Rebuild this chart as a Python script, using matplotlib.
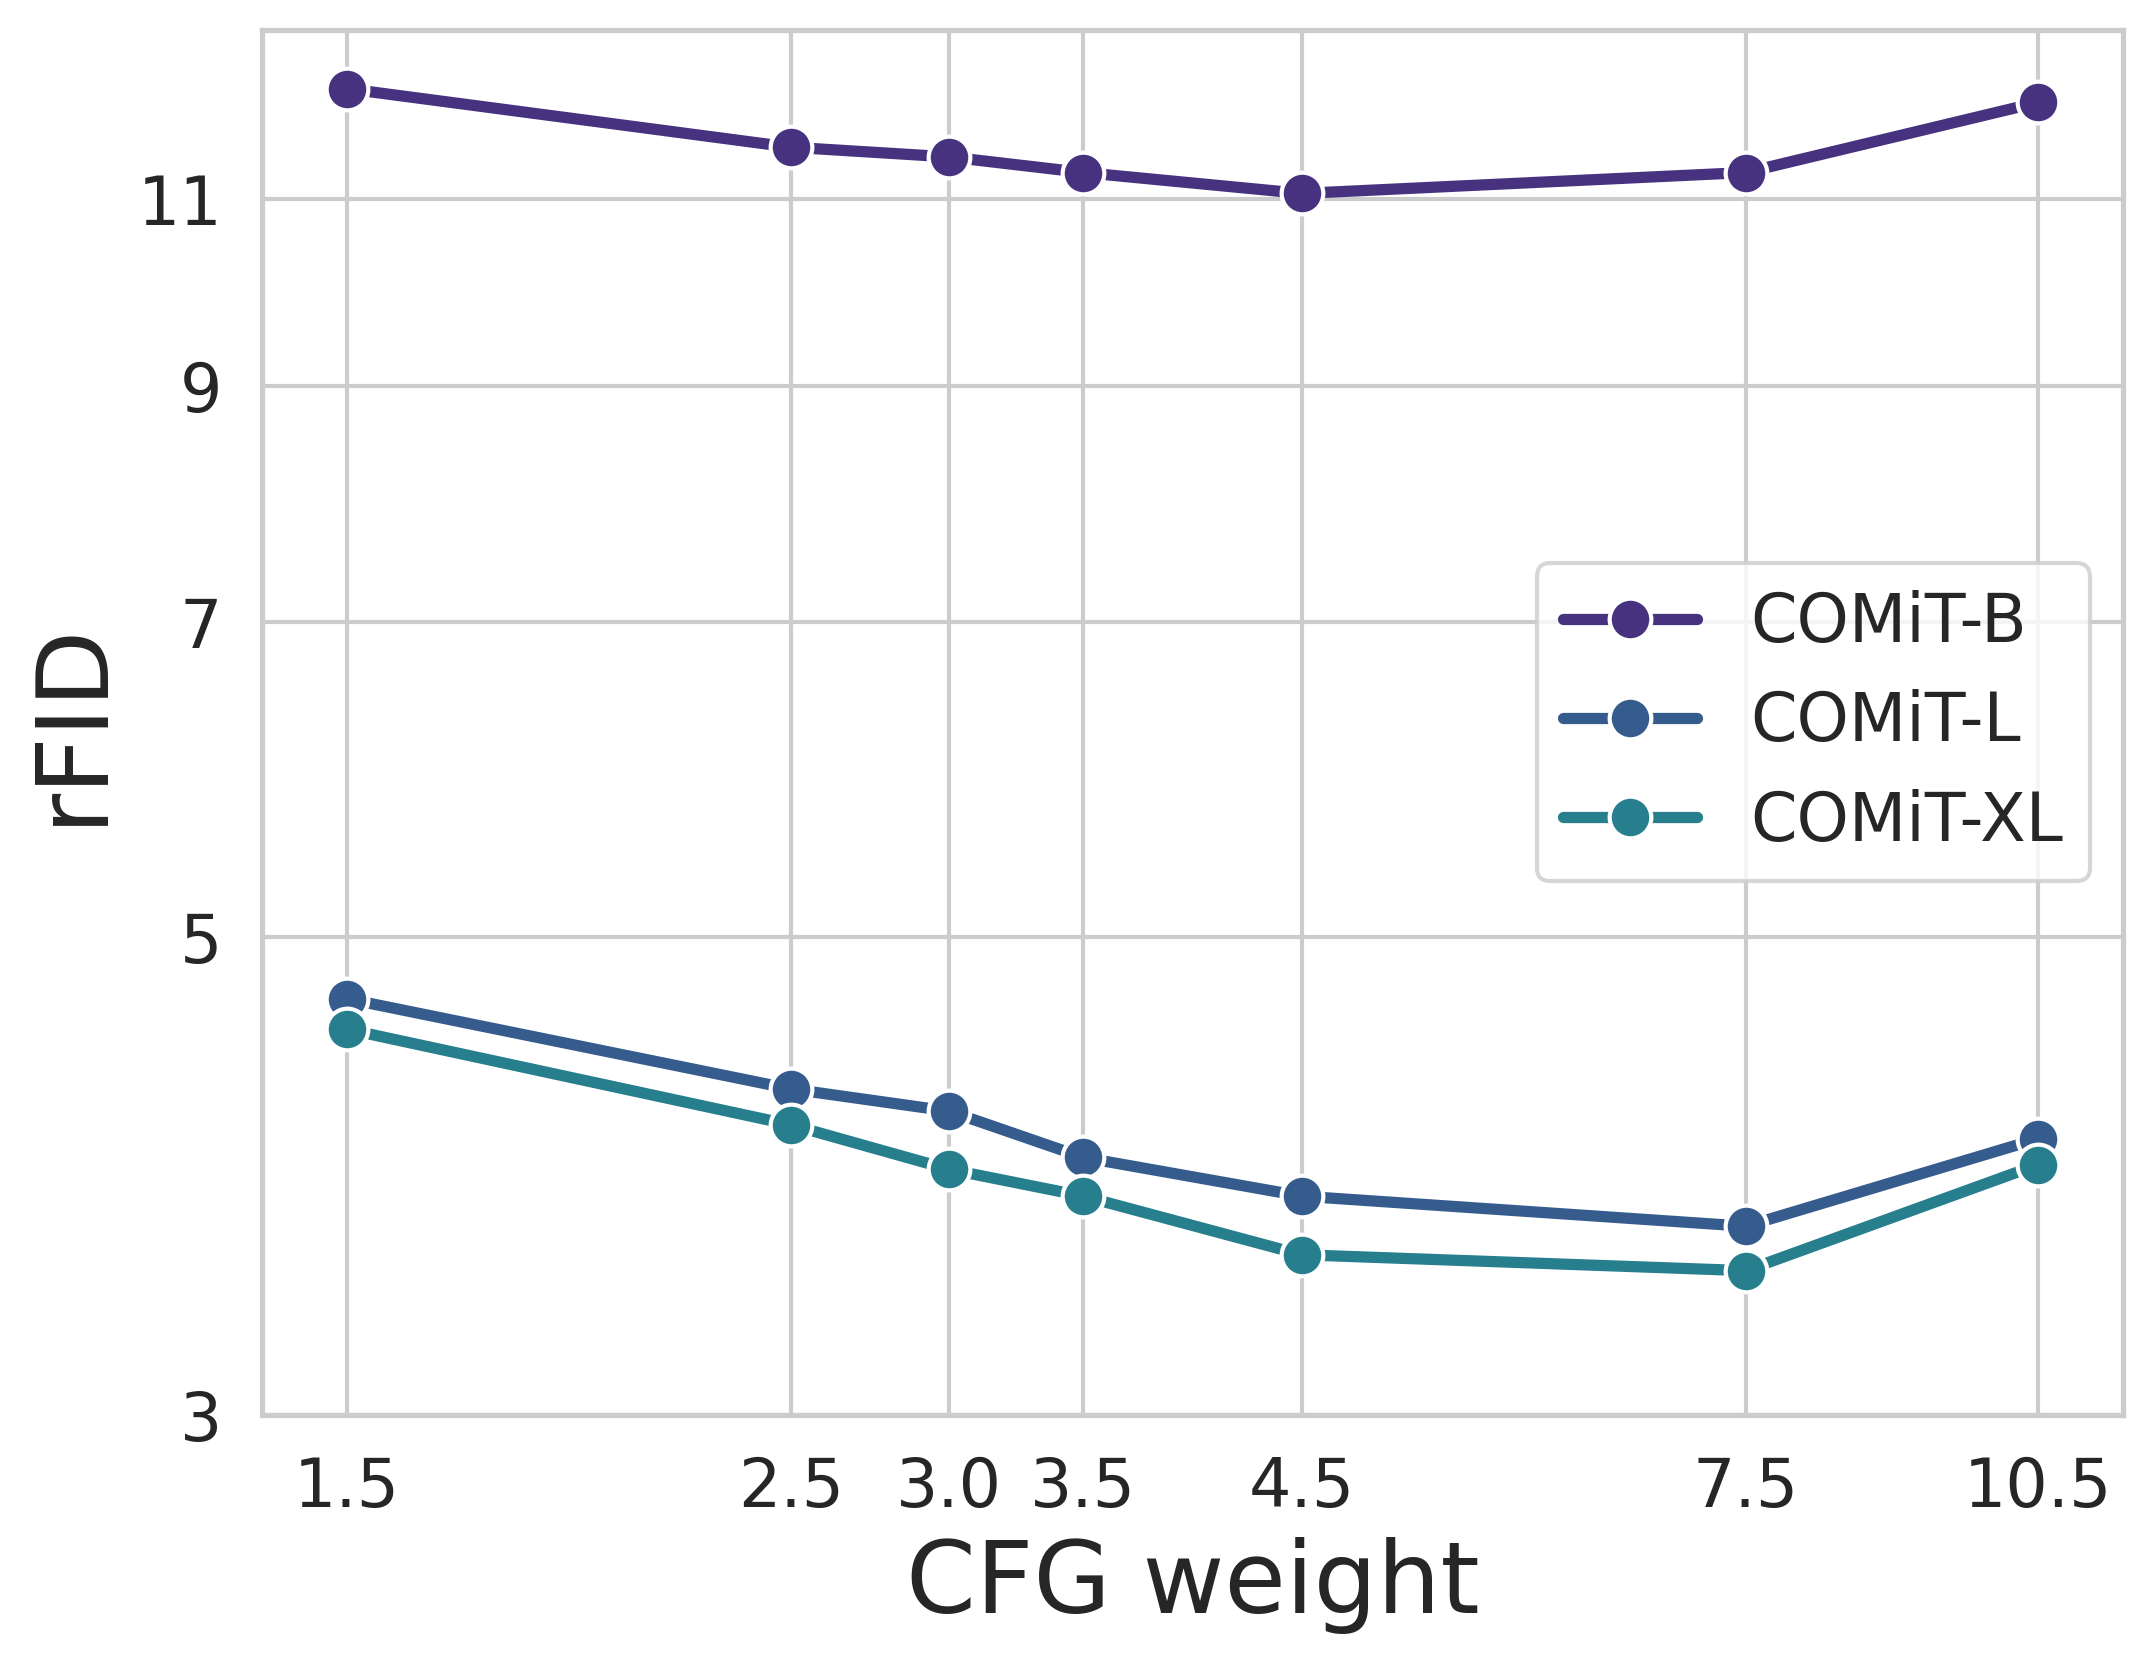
import matplotlib
matplotlib.use("Agg")
import matplotlib.pyplot as plt
from matplotlib.ticker import FixedLocator, FixedFormatter, NullLocator
import seaborn as sns

cfg_weights = [1.5, 2.5, 3.0, 3.5, 4.5, 7.5, 10.5]
cfg_labels = ["1.5", "2.5", "3.0", "3.5", "4.5", "7.5", "10.5"]
comit_b = [12.37, 11.62, 11.50, 11.31, 11.06, 11.31, 12.19]
comit_l = [4.68, 4.25, 4.15, 3.95, 3.79, 3.67, 4.03]
comit_xl = [4.53, 4.09, 3.90, 3.79, 3.56, 3.50, 3.92]
series_names = ["COMiT-B", "COMiT-L", "COMiT-XL"]
y_ticks = [3, 5, 7, 9, 11]

sns.set_theme(style="whitegrid")
plt.rcParams['font.family'] = ['DejaVu Sans']

colors = sns.color_palette("viridis", 6)[:3]

fig = plt.figure(figsize=(2153 / 300, 1660 / 300), dpi=300)
ax = fig.add_axes([0.1217, 0.1476, 0.986 - 0.1217, 0.9822 - 0.1476])

for vals, name, c in zip([comit_b, comit_l, comit_xl], series_names, colors):
    ax.plot(cfg_weights, vals, color=c, lw=2.7, marker='o', ms=10,
            mec='white', mew=1.0, label=name)

ax.set_xscale('log')
ax.set_yscale('log')
ax.xaxis.set_major_locator(FixedLocator(cfg_weights))
ax.xaxis.set_major_formatter(FixedFormatter(cfg_labels))
ax.xaxis.set_minor_locator(NullLocator())
ax.yaxis.set_major_locator(FixedLocator(y_ticks))
ax.yaxis.set_major_formatter(FixedFormatter([str(t) for t in y_ticks]))
ax.yaxis.set_minor_locator(NullLocator())
ax.set_ylim(bottom=3)

ax.tick_params(axis='both', labelsize=16)
ax.set_xlabel("CFG weight", fontsize=24)
ax.set_ylabel("rFID", fontsize=24)

leg = ax.legend(loc='center right', fontsize=16, frameon=True)

fig.savefig("out.png", dpi=300)
